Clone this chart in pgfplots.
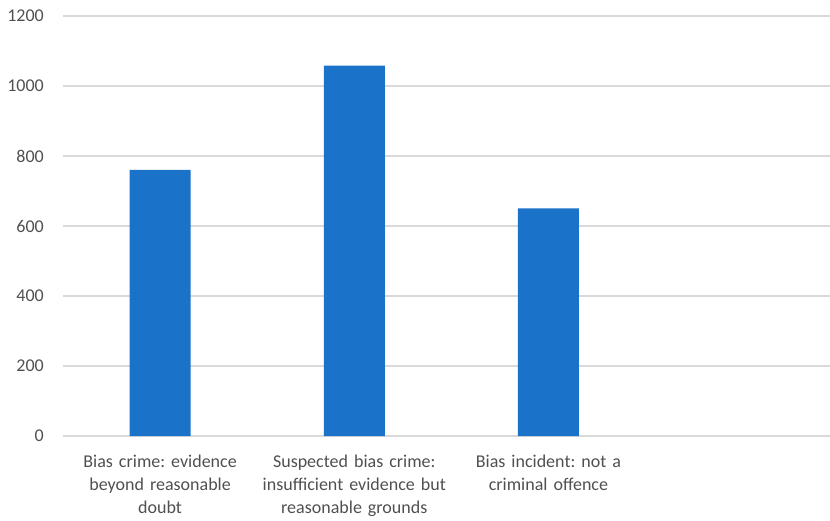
\documentclass[border=0pt]{standalone}
\usepackage{fontspec}
\setmainfont{Carlito}
\usepackage{pgfplots}
\pgfplotsset{compat=1.18}
\frenchspacing
\definecolor{barblue}{HTML}{1A73C8}
\definecolor{txtgray}{HTML}{505050}
\definecolor{gridgray}{HTML}{D9D9D9}
\begin{document}
\begin{tikzpicture}
\begin{axis}[
  scale only axis,
  width=767bp, height=420bp,
  xmin=-0.5, xmax=3.45,
  ymin=0, ymax=1200,
  ytick={0,200,...,1200},
  xtick={0,1,2},
  xticklabels={{Bias crime: evidence\\beyond reasonable\\doubt},{Suspected bias crime:\\insufficient evidence but\\reasonable grounds},{Bias incident: not a\\criminal offence}},
  axis line style={draw=none},
  major tick length=0pt,
  ymajorgrids, grid style={gridgray, line width=1.2bp},
  /pgf/number format/assume math mode=true,
  /pgf/number format/1000 sep={},
  tick label style={font=\frenchspacing\fontsize{18bp}{23bp}\selectfont, text=txtgray},
  yticklabel style={anchor=east, inner sep=0pt, xshift=-19bp},
  xticklabel style={anchor=north, inner sep=0pt, align=center, text width=190bp, yshift=-19bp},
  clip=false,
]
\addplot[ybar, bar width=61bp, fill=barblue, draw=none] coordinates {(0,760) (1,1058) (2,650)};
\end{axis}
\pgfresetboundingbox
\path[use as bounding box] (-63bp,-85bp) rectangle (767bp,436bp);
\end{tikzpicture}
\end{document}
